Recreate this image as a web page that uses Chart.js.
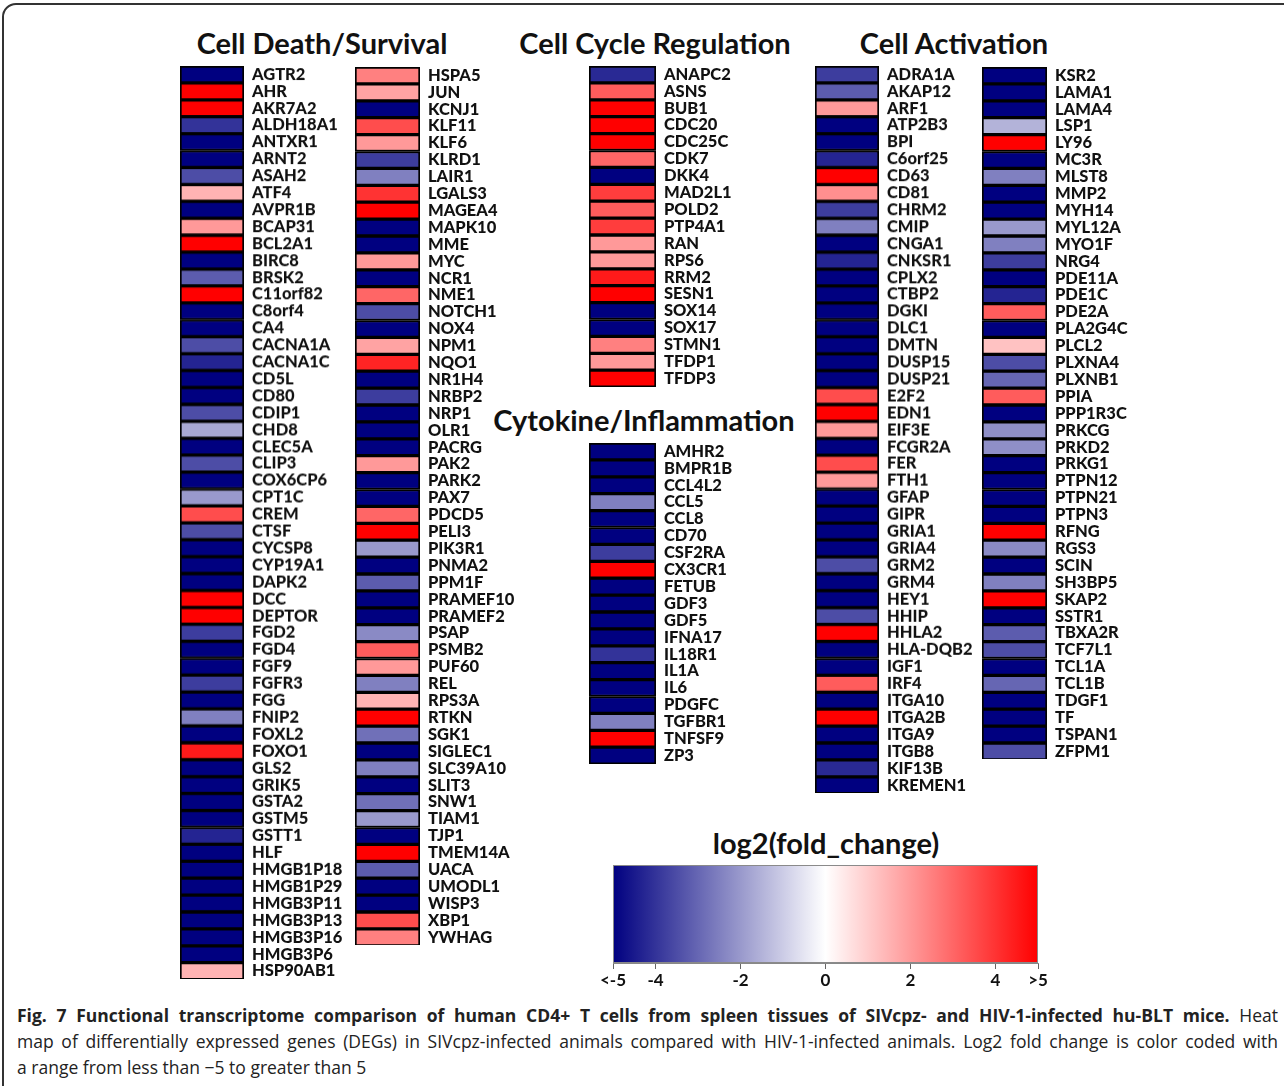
<!DOCTYPE html>
<html>
<head>
<meta charset="utf-8">
<script src="https://cdn.jsdelivr.net/npm/chart.js@4.4.0/dist/chart.umd.min.js"></script>
<style>
  body { margin: 0; background: #fff; }
  #page { position: relative; width: 1284px; height: 1086px; overflow: hidden; background: #fff; font-family: Lato, sans-serif; }
  #frame { position: absolute; left: 2px; top: 3px; width: 1300px; height: 1120px; border: 2px solid #333; border-radius: 14px; box-sizing: border-box; }
  .title { position: absolute; font-weight: 700; font-size: 29px; line-height: 34px; color: #111; transform: translateX(-50%); white-space: nowrap; }
  .box { position: absolute; }
  #caption { position: absolute; left: 17px; top: 1002px; width: 1261px; font-family: "Open Sans", sans-serif; font-size: 17.5px; line-height: 26px; color: #222; }
  #caption .ln { text-align: justify; text-align-last: justify; white-space: nowrap; }
  #caption .ln.last { text-align-last: left; }
</style>
</head>
<body>
<div id="page">
  <div id="frame"></div>

  <div class="title" style="left:322px;top:26px;">Cell Death/Survival</div>
  <div class="title" style="left:655px;top:26px;">Cell Cycle Regulation</div>
  <div class="title" style="left:954px;top:26px;">Cell Activation</div>
  <div class="title" style="left:644px;top:403px;">Cytokine/Inflammation</div>
  <div class="title" style="left:826px;top:826px;">log2(fold_change)</div>

  <div class="box" id="death1-box"><canvas id="death1"></canvas></div>
  <div class="box" id="death2-box"><canvas id="death2"></canvas></div>
  <div class="box" id="cycle-box"><canvas id="cycle"></canvas></div>
  <div class="box" id="cyto-box"><canvas id="cyto"></canvas></div>
  <div class="box" id="act1-box"><canvas id="act1"></canvas></div>
  <div class="box" id="act2-box"><canvas id="act2"></canvas></div>
  <div class="box" id="legend-box" style="left:583px;top:865px;width:485px;height:128px;"><canvas id="legend"></canvas></div>

  <div id="caption">
    <div class="ln"><b>Fig. 7 Functional transcriptome comparison of human CD4+ T cells from spleen tissues of SIVcpz- and HIV-1-infected hu-BLT mice.</b> Heat</div>
    <div class="ln">map of differentially expressed genes (DEGs) in SIVcpz-infected animals compared with HIV-1-infected animals. Log2 fold change is color coded with</div>
    <div class="ln last">a range from less than &minus;5 to greater than 5</div>
  </div>
</div>

<script>
// Data: log2 fold change per gene (clipped at +/-5)
const deathGenes1 = ['AGTR2','AHR','AKR7A2','ALDH18A1','ANTXR1','ARNT2','ASAH2','ATF4','AVPR1B','BCAP31',
  'BCL2A1','BIRC8','BRSK2','C11orf82','C8orf4','CA4','CACNA1A','CACNA1C','CD5L','CD80',
  'CDIP1','CHD8','CLEC5A','CLIP3','COX6CP6','CPT1C','CREM','CTSF','CYCSP8','CYP19A1',
  'DAPK2','DCC','DEPTOR','FGD2','FGD4','FGF9','FGFR3','FGG','FNIP2','FOXL2',
  'FOXO1','GLS2','GRIK5','GSTA2','GSTM5','GSTT1','HLF','HMGB1P18','HMGB1P29','HMGB3P11',
  'HMGB3P13','HMGB3P16','HMGB3P6','HSP90AB1'];
const deathValues1 = [-5, 5, 5, -4, -5, -5, -3.5, 1.5, -5, 2,
  5, -5, -3.2, 5, -5, -5, -3.5, -4.3, -5, -5,
  -3.5, -1.7, -5, -3.5, -5, -2, 3.5, -3.5, -5, -5,
  -5, 5, 5, -3.8, -5, -5, -3.8, -5, -2.5, -5,
  4.5, -5, -5, -5, -5, -4.3, -5, -5, -5, -5,
  -5, -5, -5, 1.5];

const deathGenes2 = ['HSPA5','JUN','KCNJ1','KLF11','KLF6','KLRD1','LAIR1','LGALS3','MAGEA4','MAPK10',
  'MME','MYC','NCR1','NME1','NOTCH1','NOX4','NPM1','NQO1','NR1H4','NRBP2',
  'NRP1','OLR1','PACRG','PAK2','PARK2','PAX7','PDCD5','PELI3','PIK3R1','PNMA2',
  'PPM1F','PRAMEF10','PRAMEF2','PSAP','PSMB2','PUF60','REL','RPS3A','RTKN','SGK1',
  'SIGLEC1','SLC39A10','SLIT3','SNW1','TIAM1','TJP1','TMEM14A','UACA','UMODL1','WISP3',
  'XBP1','YWHAG'];
const deathValues2 = [2.5, 1.8, -5, 3.5, 2, -3.8, -2.5, 4, 5, -5,
  -5, 2, -5, 3, -3.5, -5, 1.8, 4.3, -5, -3.8,
  -5, -5, -5, 2, -5, -5, 3, 5, -2, -5,
  -3.2, -5, -5, -2.3, 3.2, 2, -2.5, 1.5, 5, -2.8,
  -5, -2.5, -5, -2.8, -2, -5, 5, -3.2, -5, -5,
  3.5, 2.5];

const cycleGenes = ['ANAPC2','ASNS','BUB1','CDC20','CDC25C','CDK7','DKK4','MAD2L1','POLD2','PTP4A1',
  'RAN','RPS6','RRM2','SESN1','SOX14','SOX17','STMN1','TFDP1','TFDP3'];
const cycleValues = [-4.2, 3.2, 5, 5, 5, 3, -5, 3.8, 3.2, 3.8,
  2, 2, 4.5, 5, -5, -5, 2.5, 2, 5];

const cytoGenes = ['AMHR2','BMPR1B','CCL4L2','CCL5','CCL8','CD70','CSF2RA','CX3CR1','FETUB','GDF3',
  'GDF5','IFNA17','IL18R1','IL1A','IL6','PDGFC','TGFBR1','TNFSF9','ZP3'];
const cytoValues = [-5, -5, -5, -2.5, -5, -5, -3.8, 5, -5, -5,
  -5, -5, -4, -5, -5, -5, -2.5, 5, -5];

const actGenes1 = ['ADRA1A','AKAP12','ARF1','ATP2B3','BPI','C6orf25','CD63','CD81','CHRM2','CMIP',
  'CNGA1','CNKSR1','CPLX2','CTBP2','DGKI','DLC1','DMTN','DUSP15','DUSP21','E2F2',
  'EDN1','EIF3E','FCGR2A','FER','FTH1','GFAP','GIPR','GRIA1','GRIA4','GRM2',
  'GRM4','HEY1','HHIP','HHLA2','HLA-DQB2','IGF1','IRF4','ITGA10','ITGA2B','ITGA9',
  'ITGB8','KIF13B','KREMEN1'];
const actValues1 = [-3.8, -3.2, 2, -5, -5, -4.3, 5, 2.2, -3.8, -2.5,
  -5, -4.3, -5, -5, -5, -5, -5, -5, -5, 3.5,
  5, 2, -5, 3.5, 2, -5, -5, -5, -5, -3.5,
  -5, -5, -3.5, 5, -5, -5, 3.2, -5, 5, -5,
  -5, -4.2, -5];

const actGenes2 = ['KSR2','LAMA1','LAMA4','LSP1','LY96','MC3R','MLST8','MMP2','MYH14','MYL12A',
  'MYO1F','NRG4','PDE11A','PDE1C','PDE2A','PLA2G4C','PLCL2','PLXNA4','PLXNB1','PPIA',
  'PPP1R3C','PRKCG','PRKD2','PRKG1','PTPN12','PTPN21','PTPN3','RFNG','RGS3','SCIN',
  'SH3BP5','SKAP2','SSTR1','TBXA2R','TCF7L1','TCL1A','TCL1B','TDGF1','TF','TSPAN1',
  'ZFPM1'];
const actValues2 = [-5, -5, -5, -1.5, 5, -5, -2.5, -5, -5, -2,
  -2.5, -3.8, -5, -4.3, 3.2, -5, 1.2, -3.5, -3, 3.2,
  -5, -2.2, -2.2, -5, -5, -5, -5, 5, -2.3, -5,
  -2.5, 5, -5, -3.2, -3.5, -5, -3, -5, -5, -5,
  -3.5];

// Colour key
const keyRange = [-5, 5];
const keyTicks = [-5, -4, -2, 0, 2, 4, 5];

// Layout
const ROW_H = 16.9;
const AXIS_W = 120;
const NAVY = [0, 0, 128];
const WHITE = [255, 255, 255];
const RED = [255, 0, 0];

function mix(a, b, t) {
  return 'rgb(' + a.map((c, i) => Math.round(c + (b[i] - c) * t)).join(',') + ')';
}

function fcColor(v) {
  const c = Math.max(-5, Math.min(5, v));
  if (c < 0) return mix(NAVY, WHITE, (c + 5) / 5);
  return mix(WHITE, RED, c / 5);
}

function makeColumn(id, genes, values, barLeft, barTop, barWidth) {
  const box = document.getElementById(id + '-box');
  box.style.left = barLeft + 'px';
  box.style.top = barTop + 'px';
  box.style.width = (barWidth + AXIS_W) + 'px';
  box.style.height = (genes.length * ROW_H) + 'px';

  new Chart(document.getElementById(id), {
    type: 'bar',
    data: {
      labels: genes,
      datasets: [{
        data: genes.map(() => 1),
        backgroundColor: values.map(fcColor),
        borderColor: '#000',
        borderWidth: 2,
        borderSkipped: false,
        barPercentage: 1,
        categoryPercentage: 1
      }]
    },
    options: {
      indexAxis: 'y',
      responsive: true,
      maintainAspectRatio: false,
      animation: false,
      layout: { padding: 0 },
      plugins: { legend: { display: false }, tooltip: { enabled: false } },
      scales: {
        x: { display: false, min: 0, max: 1 },
        y: {
          position: 'right',
          grid: { display: false, drawTicks: false },
          border: { display: false },
          ticks: {
            autoSkip: false,
            padding: 8,
            color: '#111',
            font: { family: 'Lato', weight: 900, size: 16.5 }
          },
          afterFit: scale => {
            // labels sit inside their rows, so no extra room above/below the column
            scale.width = AXIS_W;
            scale.paddingTop = 0;
            scale.paddingBottom = 0;
          }
        }
      }
    }
  });
}

makeColumn('death1', deathGenes1, deathValues1, 180, 66, 64);
makeColumn('death2', deathGenes2, deathValues2, 355, 66.5, 65);
makeColumn('cycle', cycleGenes, cycleValues, 589, 66, 67);
makeColumn('cyto', cytoGenes, cytoValues, 589, 442.5, 67);
makeColumn('act1', actGenes1, actValues1, 815, 66, 64);
makeColumn('act2', actGenes2, actValues2, 982, 66.5, 65);

// Colour key: one floating bar across the fold-change scale, filled with the same ramp
const frameArea = {
  id: 'frameArea',
  afterDatasetsDraw(chart) {
    const { ctx, chartArea: a } = chart;
    ctx.save();
    ctx.strokeStyle = '#8a8a8a';
    ctx.lineWidth = 1;
    ctx.strokeRect(a.left + 0.5, a.top + 0.5, a.width - 1, a.height - 1);
    ctx.restore();
  }
};

new Chart(document.getElementById('legend'), {
  type: 'bar',
  data: {
    labels: ['key'],
    datasets: [{
      data: [keyRange],
      backgroundColor: ctx => {
        const chart = ctx.chart;
        if (!chart.chartArea) return '#fff';
        const x = chart.scales.x;
        const x0 = x.getPixelForValue(keyRange[0]);
        const x1 = x.getPixelForValue(keyRange[1]);
        const g = chart.ctx.createLinearGradient(x0, 0, x1, 0);
        [-5, -4, -3, -2, -1, 0, 1, 2, 3, 4, 5].forEach(v => {
          g.addColorStop((v - keyRange[0]) / (keyRange[1] - keyRange[0]), fcColor(v));
        });
        return g;
      },
      borderWidth: 0,
      barPercentage: 1,
      categoryPercentage: 1
    }]
  },
  plugins: [frameArea],
  options: {
    indexAxis: 'y',
    responsive: true,
    maintainAspectRatio: false,
    animation: false,
    layout: { padding: { left: 30, right: 30, top: 0, bottom: 0 } },
    plugins: { legend: { display: false }, tooltip: { enabled: false } },
    scales: {
      y: { display: false },
      x: {
        type: 'linear',
        min: keyRange[0],
        max: keyRange[1],
        grid: { display: true, drawOnChartArea: false, drawTicks: true, tickLength: 6, color: '#666' },
        border: { display: true, color: '#888' },
        afterBuildTicks: scale => { scale.ticks = keyTicks.map(v => ({ value: v })); },
        afterFit: scale => { scale.height = 30; },
        ticks: {
          padding: 1,
          color: '#111',
          font: { family: 'Lato', weight: 'bold', size: 17 },
          callback: v => v === -5 ? '<-5' : (v === 5 ? '>5' : String(v))
        }
      }
    }
  }
});
</script>
</body>
</html>
